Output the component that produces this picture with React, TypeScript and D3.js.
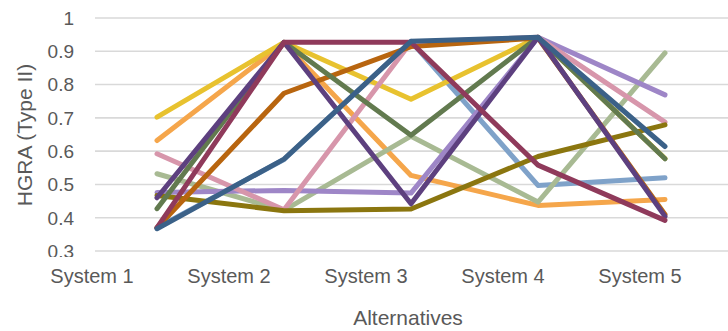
import React from "react";
import * as d3 from "d3";

// Category axis and y-axis ticks
const categories = ["System 1", "System 2", "System 3", "System 4", "System 5"];
const yTicks = [0.3, 0.4, 0.5, 0.6, 0.7, 0.8, 0.9, 1];

// HGRA (Type II) scores per alternative, one array per series
const seriesNames = [
  "A1", "A2", "A3", "A4", "A5", "A6",
  "A7", "A8", "A9", "A10", "A11", "A12",
];
const a1 = [0.37, 0.575, 0.93, 0.497, 0.52];
const a2 = [0.632, 0.925, 0.527, 0.437, 0.455];
const a3 = [0.532, 0.422, 0.645, 0.447, 0.895];
const a4 = [0.702, 0.927, 0.756, 0.942, 0.578];
const a5 = [0.476, 0.482, 0.474, 0.942, 0.769];
const a6 = [0.592, 0.424, 0.927, 0.942, 0.687];
const a7 = [0.467, 0.421, 0.426, 0.584, 0.679];
const a8 = [0.37, 0.774, 0.914, 0.94, 0.41];
const a9 = [0.427, 0.927, 0.648, 0.942, 0.577];
const a10 = [0.46, 0.927, 0.442, 0.942, 0.404];
const a11 = [0.37, 0.927, 0.927, 0.558, 0.392];
const a12 = [0.367, 0.576, 0.93, 0.942, 0.614];
const seriesValues = [a1, a2, a3, a4, a5, a6, a7, a8, a9, a10, a11, a12];

const palette = [
  "#7fa2c9", "#f5a64b", "#a8ba93", "#e8c22f", "#9e86c7", "#d796ab",
  "#8b760f", "#b8650f", "#627a4f", "#5d407f", "#8f3a5b", "#3b6188",
];

const W = 728;
const H = 331;
const textColor = "#595959";
const font = "'Liberation Sans', Arial, sans-serif";

export default function App() {
  const y = d3.scaleLinear().domain([0.3, 1]).range([251, 18]);
  const xData = d3.scalePoint<string>().domain(categories).range([157, 665]);
  const xLabel = d3.scalePoint<string>().domain(categories).range([92, 640]);

  const line = d3
    .line<number>()
    .x((_, i) => xData(categories[i]) as number)
    .y((v) => y(v));

  return (
    <svg
      width={W}
      height={H}
      style={{ position: "absolute", left: 0, top: 0, background: "#fff" }}
      fontFamily={font}
    >
      <defs>
        <clipPath id="tick-clip">
          <rect x={0} y={0} width={90} height={257} />
        </clipPath>
      </defs>
      <rect width={W} height={H} fill="#fff" />

      {/* horizontal gridlines */}
      {yTicks.map((t) => (
        <line
          key={"g" + t}
          x1={95}
          x2={W}
          y1={y(t)}
          y2={y(t)}
          stroke="#d9d9d9"
          strokeWidth={1.6}
        />
      ))}

      {/* y tick labels */}
      <g clipPath="url(#tick-clip)">
        {yTicks.map((t) => (
          <text
            key={"t" + t}
            x={74}
            y={y(t)}
            dy="0.36em"
            textAnchor="end"
            fontSize={19}
            fill={textColor}
          >
            {d3.format("~g")(t)}
          </text>
        ))}
      </g>

      {/* category labels */}
      {categories.map((c) => (
        <text
          key={c}
          x={xLabel(c)}
          y={283}
          textAnchor="middle"
          fontSize={20}
          fill={textColor}
        >
          {c}
        </text>
      ))}

      {/* series lines */}
      {seriesValues.map((vals, i) => (
        <path
          key={seriesNames[i]}
          d={line(vals) ?? ""}
          fill="none"
          stroke={palette[i]}
          strokeWidth={5}
          strokeLinecap="round"
          strokeLinejoin="round"
        />
      ))}

      {/* axis titles */}
      <text
        x={408}
        y={325}
        textAnchor="middle"
        fontSize={21}
        fill={textColor}
      >
        Alternatives
      </text>
      <text
        transform="translate(32,135) rotate(-90)"
        textAnchor="middle"
        fontSize={21}
        fill={textColor}
      >
        HGRA (Type II)
      </text>
    </svg>
  );
}
